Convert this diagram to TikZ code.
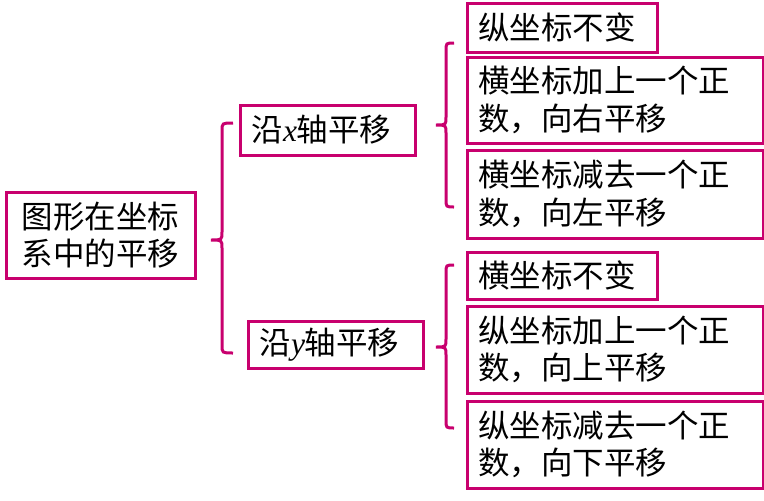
\documentclass[tikz,border=0pt]{standalone}
\usepackage{fontspec}
\newfontfamily\cjk{Noto Sans CJK SC}
\newfontfamily\xiti{Liberation Serif}
\usepackage{tikz}

\definecolor{kuang}{RGB}{200,0,110}

\tikzset{
	box/.style={draw=kuang, line width=3pt, inner sep=0pt, font=\cjk\fontsize{31.5}{37.5}\selectfont},
	kuo/.style={draw=kuang, line width=3pt},
}

% italic letter for the axis
\newcommand{\zhou}[1]{{\xiti\itshape #1}}

% brace: tip x, line x, hook x, top y, tip y, bottom y
\newcommand{\kuohao}[6]{
	\draw[kuo] (#3,#4) .. controls (#2,#4) .. (#2,#4+8) -- (#2,#5-8)
		.. controls (#2,#5) .. (#1,#5) .. controls (#2,#5) .. (#2,#5+8)
		-- (#2,#6-8) .. controls (#2,#6) .. (#3,#6);
}

\begin{document}
\begin{tikzpicture}[x=1pt, y=-1pt]
		\useasboundingbox (0,0) rectangle (764,501);

		\node[box, minimum width=189pt, minimum height=86pt, align=center] (tuxing) at (100.5,235) {图形在坐标\\系中的平移};

		\node[box, minimum width=175pt, minimum height=50pt, text width=152pt, align=left] (yanx) at (327.5,130) {沿\zhou{x}轴平移};
		\node[box, minimum width=175pt, minimum height=47pt, text width=152pt, align=left] (yany) at (335.5,344.5) {沿\zhou{y}轴平移};

		\node[box, minimum width=190pt, minimum height=49pt, text width=168pt, align=left] (x-1) at (562,27.5) {纵坐标不变};
		\node[box, minimum width=296pt, minimum height=86pt, text width=274pt, align=left] (x-2) at (615,100) {横坐标加上一个正\\数，向右平移};
		\node[box, minimum width=296pt, minimum height=88pt, text width=274pt, align=left] (x-3) at (615,194) {横坐标减去一个正\\数，向左平移};

		\node[box, minimum width=190pt, minimum height=47pt, text width=168pt, align=left] (y-1) at (562,275.5) {横坐标不变};
		\node[box, minimum width=296pt, minimum height=87pt, text width=274pt, align=left] (y-2) at (615,349.5) {纵坐标加上一个正\\数，向上平移};
		\node[box, minimum width=296pt, minimum height=87pt, text width=274pt, align=left] (y-3) at (615,444.5) {纵坐标减去一个正\\数，向下平移};

		\kuohao{211}{222}{233}{123}{240}{353}
		\kuohao{436}{446}{454}{43}{125}{207}
		\kuohao{436}{446}{454}{265}{347}{428}
	\end{tikzpicture}
\end{document}
